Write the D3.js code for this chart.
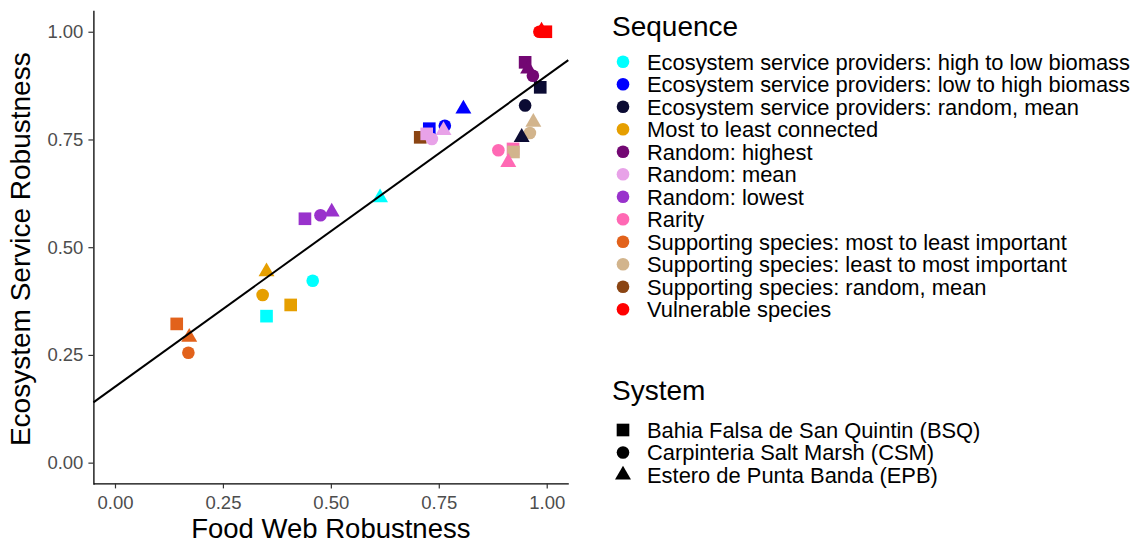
<!DOCTYPE html>
<html>
<head>
<meta charset="utf-8">
<script src="https://cdn.jsdelivr.net/npm/d3@7"></script>
<style>
  body { margin: 0; background: #fff; }
  text { font-family: "Liberation Sans", Arial, Helvetica, sans-serif; }
</style>
</head>
<body>
<svg id="chart" width="1132" height="545"></svg>
<script>
// Extinction sequences (colour legend)
const sequences = [
  "Ecosystem service providers: high to low biomass",
  "Ecosystem service providers: low to high biomass",
  "Ecosystem service providers: random, mean",
  "Most to least connected",
  "Random: highest",
  "Random: mean",
  "Random: lowest",
  "Rarity",
  "Supporting species: most to least important",
  "Supporting species: least to most important",
  "Supporting species: random, mean",
  "Vulnerable species"
];
const seqColors = [
  "#00FFFF", "#0000FF", "#0B0B33", "#E69F00", "#730873", "#E8A2E8",
  "#9932CC", "#FF69B4", "#E2621B", "#D2B48C", "#8B4513", "#FF0000"
];

// Study systems (shape legend)
const systems = [
  "Bahia Falsa de San Quintin (BSQ)",
  "Carpinteria Salt Marsh (CSM)",
  "Estero de Punta Banda (EPB)"
];

// Robustness per sequence for each system (null = not shown)
const bsqFoodWeb = [0.351, 0.728, 0.985, 0.407, 0.950, 0.722, 0.440, 0.922, 0.143, 0.923, 0.707, 0.998];
const bsqService = [0.340, 0.775, 0.871, 0.366, 0.929, 0.763, 0.566, 0.728, 0.322, 0.721, 0.755, 1.000];
const csmFoodWeb = [0.458, 0.764, 0.950, 0.342, 0.968, 0.734, 0.476, 0.888, 0.170, 0.961, null, 0.983];
const csmService = [0.422, 0.782, 0.829, 0.389, 0.898, 0.751, 0.574, 0.725, 0.255, 0.765, null, 1.000];
const epbFoodWeb = [0.614, 0.807, 0.942, 0.351, 0.957, 0.761, 0.502, 0.911, 0.172, 0.969, null, 0.988];
const epbService = [0.615, 0.821, 0.755, 0.443, 0.914, 0.771, 0.582, 0.697, 0.291, 0.790, null, 1.002];

// Linear trend: intercept, slope
const trendCoef = [0.176, 0.722];

const tickValues = [0, 0.25, 0.5, 0.75, 1];

const svg = d3.select("#chart");
const x = d3.scaleLinear().domain([-0.05, 1.05]).range([93.4, 568.3]);
const y = d3.scaleLinear().domain([-0.05, 1.05]).range([484.2, 10.2]);

const shapeTypes = [d3.symbolSquare, d3.symbolCircle, d3.symbolTriangle];
const shapeSizes = [160, 125, 110];
const symbolPath = (s) => d3.symbol().type(shapeTypes[s]).size(shapeSizes[s])();

// Assemble points: squares, then circles, then triangles
const seriesX = [bsqFoodWeb, csmFoodWeb, epbFoodWeb];
const seriesY = [bsqService, csmService, epbService];
const drawOrder = [10, 0, 1, 2, 3, 4, 5, 6, 7, 8, 9, 11];
const points = [];
for (let s = 0; s < 3; s++) {
  for (const i of drawOrder) {
    if (seriesX[s][i] == null) continue;
    points.push({ seq: i, sys: s, fw: seriesX[s][i], es: seriesY[s][i] });
  }
}

// Points
svg.append("g").selectAll("path")
  .data(points)
  .join("path")
  .attr("d", d => symbolPath(d.sys))
  .attr("transform", d => `translate(${x(d.fw)},${y(d.es)})`)
  .attr("fill", d => seqColors[d.seq]);

// Trend line across the full panel
const [x0, x1] = x.domain();
svg.append("line")
  .attr("x1", x(x0)).attr("y1", y(trendCoef[0] + trendCoef[1] * x0))
  .attr("x2", x(x1)).attr("y2", y(trendCoef[0] + trendCoef[1] * x1))
  .attr("stroke", "#000").attr("stroke-width", 2);

// Axes
const xAxis = svg.append("g")
  .attr("transform", `translate(0,${y.range()[0] - 0.8})`)
  .call(d3.axisBottom(x).tickValues(tickValues).tickFormat(d3.format(".2f")).tickSize(5).tickPadding(7).tickSizeOuter(0));
const yAxis = svg.append("g")
  .attr("transform", `translate(${x.range()[0]},0)`)
  .call(d3.axisLeft(y).tickValues(tickValues).tickFormat(d3.format(".2f")).tickSize(5).tickPadding(5).tickSizeOuter(0));

[xAxis, yAxis].forEach(g => {
  g.select(".domain").attr("stroke", "#000").attr("stroke-width", 1.3);
  g.selectAll(".tick line").attr("stroke", "#333").attr("stroke-width", 1.2);
  g.selectAll(".tick text").attr("fill", "#4D4D4D").style("font-size", "18.5px")
    .style("font-family", "'Liberation Sans', Arial, sans-serif");
});

// Axis titles
svg.append("text")
  .attr("x", (x.range()[0] + x.range()[1]) / 2).attr("y", 538)
  .attr("text-anchor", "middle").style("font-size", "27.5px").attr("fill", "#000")
  .text("Food Web Robustness");
svg.append("text")
  .attr("transform", `translate(30,${(y.range()[0] + y.range()[1]) / 2 + 2}) rotate(-90)`)
  .attr("text-anchor", "middle").style("font-size", "28px").attr("fill", "#000")
  .text("Ecosystem Service Robustness");

// Colour legend
const legX = 612, keyX = 623, labX = 647, rowH = 22.5;
svg.append("text").attr("x", legX).attr("y", 36)
  .style("font-size", "28px").text("Sequence");
const seqRows = svg.append("g").selectAll("g")
  .data(sequences).join("g")
  .attr("transform", (d, i) => `translate(0,${61.7 + i * rowH})`);
seqRows.append("path")
  .attr("d", symbolPath(1))
  .attr("transform", `translate(${keyX},0)`)
  .attr("fill", (d, i) => seqColors[i]);
seqRows.append("text")
  .attr("x", labX).attr("dy", "0.36em")
  .style("font-size", "21.9px").text(d => d);

// Shape legend
svg.append("text").attr("x", legX).attr("y", 400)
  .style("font-size", "28px").text("System");
const sysRows = svg.append("g").selectAll("g")
  .data(systems).join("g")
  .attr("transform", (d, i) => `translate(0,${430 + i * rowH})`);
sysRows.append("path")
  .attr("d", (d, i) => symbolPath(i))
  .attr("transform", `translate(${keyX},0)`)
  .attr("fill", "#000");
sysRows.append("text")
  .attr("x", labX).attr("dy", "0.36em")
  .style("font-size", "21.9px").text(d => d);
</script>
</body>
</html>
